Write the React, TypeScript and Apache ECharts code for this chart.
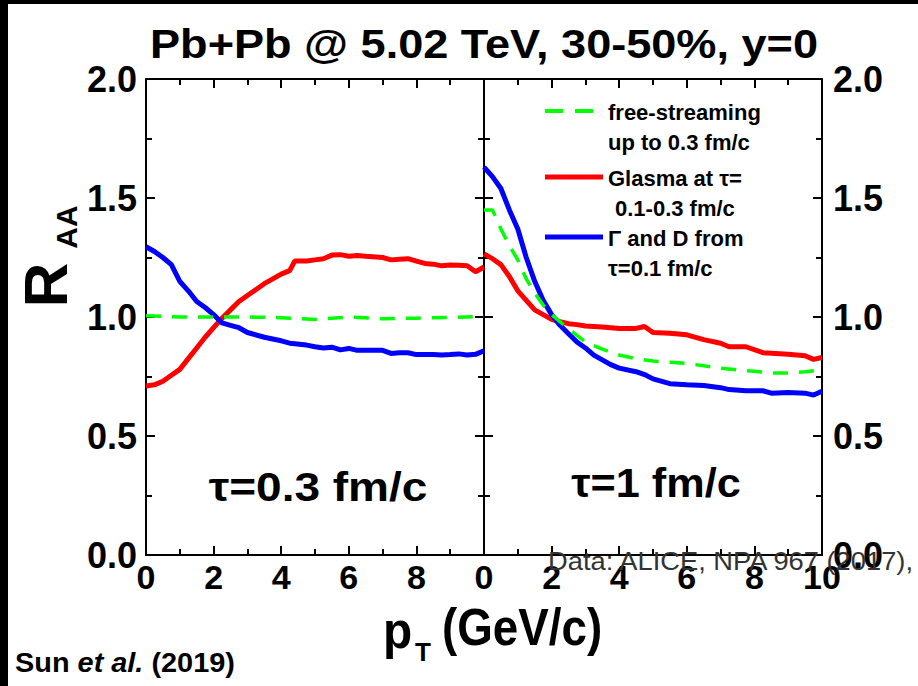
import React, { useEffect, useRef } from "react";
import * as echarts from "echarts";

// Nuclear modification factor R_AA vs pT, two panels (tau = 0.3 fm/c and tau = 1 fm/c)
const ptEarly = [0, 0.25, 0.5, 0.75, 1, 1.25, 1.5, 1.75, 2, 2.25, 2.5, 2.75, 3, 3.5, 4, 4.25, 4.4, 4.75, 5, 5.25, 5.5, 5.75, 6, 6.25, 6.5, 7, 7.25, 7.5, 7.75, 8, 8.25, 8.5, 8.75, 9, 9.25, 9.5, 9.75, 10];
const glasmaEarly = [0.71, 0.715, 0.73, 0.755, 0.78, 0.825, 0.87, 0.915, 0.955, 0.995, 1.03, 1.065, 1.09, 1.14, 1.18, 1.195, 1.235, 1.235, 1.24, 1.245, 1.26, 1.262, 1.255, 1.258, 1.255, 1.25, 1.24, 1.243, 1.245, 1.235, 1.225, 1.222, 1.215, 1.218, 1.217, 1.215, 1.19, 1.21];
const gammaDEarly = [1.295, 1.275, 1.25, 1.22, 1.15, 1.11, 1.065, 1.04, 1.01, 0.975, 0.965, 0.955, 0.935, 0.915, 0.9, 0.89, 0.888, 0.882, 0.875, 0.87, 0.873, 0.862, 0.868, 0.86, 0.86, 0.86, 0.847, 0.85, 0.85, 0.842, 0.842, 0.842, 0.84, 0.842, 0.845, 0.84, 0.843, 0.858];

const ptFreeEarly = [0, 1, 2, 3, 4, 5, 5.5, 6, 7, 8, 9, 10];
const freeEarly = [1.005, 1.0, 1.0, 1.0, 0.997, 0.99, 0.995, 1.0, 0.993, 0.995, 0.998, 1.003];

const ptLate = [0, 0.25, 0.5, 0.75, 1, 1.25, 1.5, 1.75, 2, 2.25, 2.5, 2.75, 3, 3.25, 3.5, 3.75, 4, 4.5, 4.75, 5, 5.5, 6, 6.5, 7, 7.25, 7.75, 8.25, 8.5, 9, 9.5, 9.75, 10];
const glasmaLate = [1.265, 1.245, 1.22, 1.17, 1.11, 1.07, 1.03, 1.01, 0.99, 0.98, 0.972, 0.968, 0.962, 0.96, 0.958, 0.955, 0.952, 0.952, 0.96, 0.935, 0.932, 0.925, 0.905, 0.89, 0.875, 0.875, 0.85, 0.848, 0.843, 0.837, 0.822, 0.83];
const gammaDLate = [1.63, 1.59, 1.54, 1.45, 1.37, 1.25, 1.15, 1.07, 1.01, 0.965, 0.93, 0.895, 0.87, 0.84, 0.82, 0.8, 0.785, 0.77, 0.758, 0.74, 0.72, 0.715, 0.712, 0.703, 0.695, 0.69, 0.69, 0.68, 0.683, 0.68, 0.672, 0.688];

const ptFreeLate = [0, 0.25, 0.5, 0.75, 1, 1.25, 1.5, 1.75, 2, 2.5, 3, 3.5, 4, 4.5, 5, 5.5, 6, 6.5, 7, 7.5, 8, 8.5, 9, 9.5, 10];
const freeLate = [1.45, 1.45, 1.37, 1.3, 1.24, 1.16, 1.1, 1.05, 1.01, 0.95, 0.895, 0.865, 0.84, 0.825, 0.815, 0.81, 0.805, 0.795, 0.785, 0.778, 0.772, 0.765, 0.765, 0.77, 0.778];

const xTicks = [0, 2, 4, 6, 8, 10];
const yTicks = [0, 0.5, 1.0, 1.5, 2.0];

const FONT = "'Liberation Sans', Arial, sans-serif";
const RED = "#ff0000";
const BLUE = "#0000ff";
const GREEN = "#00ff00";

const zip = (xs: number[], ys: number[]) => xs.map((x, i) => [x, ys[i]]);

const panelLeft = [146, 484];
const panelWidth = 338;

function xAxes(grid: number, position: "bottom" | "top", hideLast: boolean) {
  return {
    gridIndex: grid,
    type: "value",
    position,
    min: xTicks[0],
    max: xTicks[xTicks.length - 1],
    interval: 2,
    axisLine: { show: true, onZero: false, lineStyle: { color: "#000", width: 2 } },
    axisTick: { show: true, inside: true, length: 9, lineStyle: { color: "#000", width: 2 } },
    minorTick: { show: true, splitNumber: 2, length: 6, lineStyle: { color: "#000", width: 2 } },
    splitLine: { show: false },
    minorSplitLine: { show: false },
    axisLabel: {
      show: position === "bottom",
      margin: 5,
      color: "#000",
      fontFamily: FONT,
      fontWeight: "bold",
      fontSize: 34,
      formatter: (v: number) => (hideLast && v === 10 ? "" : String(v)),
    },
  };
}

function yAxis(grid: number, position: "left" | "right", labels: boolean) {
  return {
    gridIndex: grid,
    type: "value",
    position,
    min: yTicks[0],
    max: yTicks[yTicks.length - 1],
    interval: 0.5,
    axisLine: { show: true, onZero: false, lineStyle: { color: "#000", width: 2 } },
    axisTick: { show: true, inside: true, length: 9, lineStyle: { color: "#000", width: 2 } },
    minorTick: { show: true, splitNumber: 2, length: 6, lineStyle: { color: "#000", width: 2 } },
    splitLine: { show: false },
    minorSplitLine: { show: false },
    axisLabel: {
      show: labels,
      margin: position === "left" ? 9 : 11,
      color: "#000",
      fontFamily: FONT,
      fontWeight: "bold",
      fontSize: 36,
      formatter: (v: number) => v.toFixed(1),
    },
  };
}

function curve(name: string, x: number, data: number[][], color: string, dashed: boolean) {
  return {
    name,
    type: "line",
    xAxisIndex: x * 2,
    yAxisIndex: x * 2,
    data,
    showSymbol: false,
    symbol: "none",
    smooth: false,
    lineStyle: dashed
      ? { color, width: 3.5, type: [15, 11] }
      : { color, width: 5 },
    z: dashed ? 3 : 2,
  };
}

function legendRow(y: number, color: string, dashed: boolean, line1: string, line2: string, indent: number) {
  const items: any[] = [
    {
      type: "line",
      shape: { x1: 545, y1: y, x2: 603, y2: y },
      style: dashed
        ? { stroke: color, lineWidth: 4, lineDash: [18, 12] }
        : { stroke: color, lineWidth: 5 },
    },
    {
      type: "text",
      x: 608,
      y: y + 1,
      style: { text: line1, fill: "#000", font: `bold 22px ${FONT}`, textVerticalAlign: "middle" },
    },
    {
      type: "text",
      x: 608 + indent,
      y: y + 31,
      style: { text: line2, fill: "#000", font: `bold 22px ${FONT}`, textVerticalAlign: "middle" },
    },
  ];
  return items;
}

export default function App() {
  const ref = useRef<HTMLDivElement>(null);

  useEffect(() => {
    if (!ref.current) return;
    const chart = echarts.init(ref.current, null, { renderer: "svg" });

    const option: any = {
      animation: false,
      backgroundColor: "#ffffff",
      grid: panelLeft.map((left) => ({ left, top: 79, width: panelWidth, height: 476, containLabel: false })),
      xAxis: [
        xAxes(0, "bottom", true),
        xAxes(0, "top", true),
        xAxes(1, "bottom", false),
        xAxes(1, "top", false),
      ],
      yAxis: [
        yAxis(0, "left", true),
        yAxis(0, "right", false),
        yAxis(1, "left", false),
        yAxis(1, "right", true),
      ],
      series: [
        curve("Glasma (0.3)", 0, zip(ptEarly, glasmaEarly), RED, false),
        curve("Gamma and D (0.3)", 0, zip(ptEarly, gammaDEarly), BLUE, false),
        curve("free-streaming (0.3)", 0, zip(ptFreeEarly, freeEarly), GREEN, true),
        curve("Glasma (1)", 1, zip(ptLate, glasmaLate), RED, false),
        curve("Gamma and D (1)", 1, zip(ptLate, gammaDLate), BLUE, false),
        curve("free-streaming (1)", 1, zip(ptFreeLate, freeLate), GREEN, true),
      ],
      graphic: [
        // dark frame strips along the top and left edge
        { type: "rect", shape: { x: 0, y: 0, width: 918, height: 4 }, style: { fill: "#000" }, z: 100 },
        { type: "rect", shape: { x: 0, y: 0, width: 8, height: 686 }, style: { fill: "#000" }, z: 100 },
        {
          type: "text",
          x: 484,
          y: 44,
          style: {
            text: "Pb+Pb @ 5.02 TeV, 30-50%, y=0",
            fill: "#000",
            font: `bold 41px ${FONT}`,
            textAlign: "center",
            textVerticalAlign: "middle",
          },
          scaleX: 1.1,
        },
        {
          type: "text",
          x: 45,
          y: 285,
          rotation: Math.PI / 2,
          style: { text: "R", fill: "#000", font: `bold 62px ${FONT}`, textAlign: "center", textVerticalAlign: "middle" },
        },
        {
          type: "text",
          x: 66,
          y: 227,
          rotation: Math.PI / 2,
          style: { text: "AA", fill: "#000", font: `bold 30px ${FONT}`, textAlign: "center", textVerticalAlign: "middle" },
        },
        {
          type: "text",
          x: 383,
          y: 630,
          style: { text: "p", fill: "#000", font: `bold 52px ${FONT}`, textVerticalAlign: "middle" },
          scaleX: 0.92,
        },
        {
          type: "text",
          x: 415,
          y: 652,
          style: { text: "T", fill: "#000", font: `bold 26px ${FONT}`, textVerticalAlign: "middle" },
        },
        {
          type: "text",
          x: 442,
          y: 627,
          style: { text: "(GeV/c)", fill: "#000", font: `bold 52px ${FONT}`, textVerticalAlign: "middle" },
          scaleX: 0.88,
        },
        {
          type: "text",
          x: 318,
          y: 487,
          style: { text: "τ=0.3 fm/c", fill: "#000", font: `bold 40px ${FONT}`, textAlign: "center", textVerticalAlign: "middle" },
          scaleX: 1.15,
        },
        {
          type: "text",
          x: 656,
          y: 483,
          style: { text: "τ=1 fm/c", fill: "#000", font: `bold 40px ${FONT}`, textAlign: "center", textVerticalAlign: "middle" },
          scaleX: 1.08,
        },
        ...legendRow(111, GREEN, true, "free-streaming", "up to 0.3 fm/c", 0),
        ...legendRow(177, RED, false, "Glasma at τ=", "0.1-0.3 fm/c", 7),
        ...legendRow(237, BLUE, false, "Γ and D from", "τ=0.1 fm/c", 0),
        {
          type: "text",
          x: 548,
          y: 561,
          z: 50,
          style: { text: "Data: ALICE, NPA 967 (2017),", fill: "#333", font: `26px ${FONT}`, textVerticalAlign: "middle" },
          scaleX: 1.05,
        },
        {
          type: "text",
          x: 15,
          y: 663,
          scaleX: 1.07,
          style: {
            text: "{b|Sun }{i|et al.}{b| (2019)}",
            fill: "#000",
            textVerticalAlign: "middle",
            rich: {
              b: { fontFamily: FONT, fontWeight: "bold", fontSize: 27, fill: "#000" },
              i: { fontFamily: FONT, fontWeight: "bold", fontStyle: "italic", fontSize: 27, fill: "#000" },
            },
          },
        },
      ],
    };

    chart.setOption(option);
    return () => chart.dispose();
  }, []);

  return (
    <div
      ref={ref}
      style={{ position: "fixed", left: 0, top: 0, width: 918, height: 686, background: "#fff" }}
    />
  );
}
